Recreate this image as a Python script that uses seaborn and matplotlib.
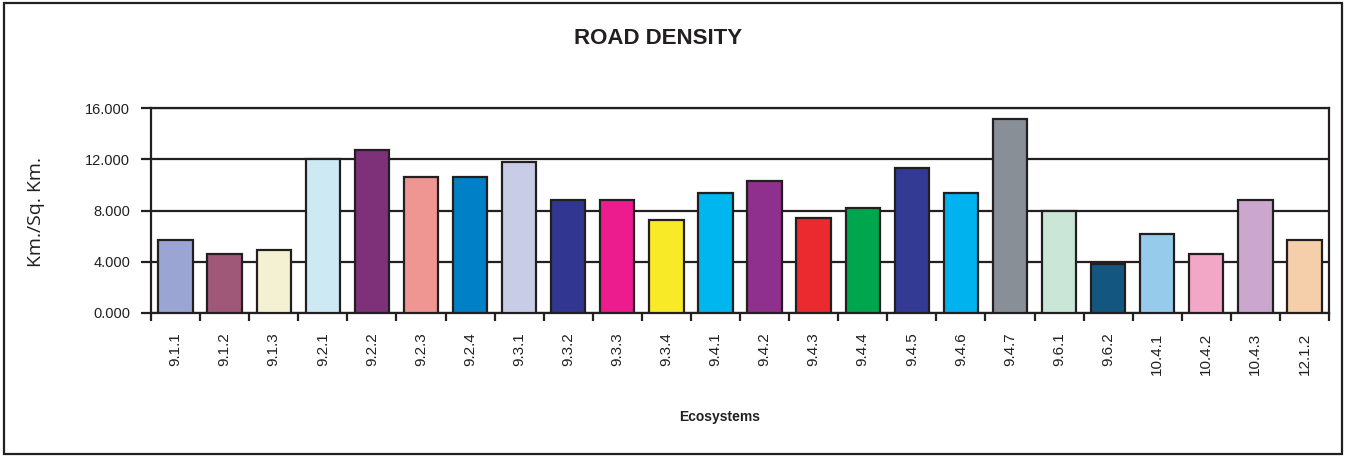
import matplotlib
matplotlib.use("Agg")
import matplotlib.pyplot as plt
import matplotlib.patches as mpatches
from matplotlib.ticker import FixedLocator, FuncFormatter
import seaborn as sns
import pandas as pd
import numpy as np

ecosystems = ["9.1.1", "9.1.2", "9.1.3", "9.2.1", "9.2.2", "9.2.3", "9.2.4", "9.3.1",
              "9.3.2", "9.3.3", "9.3.4", "9.4.1", "9.4.2", "9.4.3", "9.4.4", "9.4.5",
              "9.4.6", "9.4.7", "9.6.1", "9.6.2", "10.4.1", "10.4.2", "10.4.3", "12.1.2"]
density = [5.72, 4.60, 4.92, 12.04, 12.75, 10.64, 10.64, 11.78,
           8.85, 8.85, 7.28, 9.37, 10.28, 7.44, 8.22, 11.34,
           9.37, 15.14, 7.96, 3.82, 6.17, 4.60, 8.85, 5.72]
bar_colors = ["#9BA5D3", "#A05878", "#F3F1D2", "#CCE9F4", "#7E3079", "#F09692",
              "#0080C6", "#C8CCE7", "#313691", "#EC1B8E", "#F9EA28", "#00B6EE",
              "#8F2F8E", "#EA2A2E", "#00A64E", "#333A94", "#00B3EE", "#888F96",
              "#CAE6D6", "#135680", "#96CBEC", "#F1A7C5", "#CBA6CE", "#F5CFA9"]
y_ticks = [0, 4, 8, 12, 16]

ink = "#231F20"
sns.set_theme(style="white")
plt.rcParams["font.family"] = ["Liberation Sans", "DejaVu Sans"]

df = pd.DataFrame({"eco": ecosystems, "val": density})

fig = plt.figure(figsize=(13.45, 4.57), dpi=100)
ax = fig.add_axes([151 / 1345, 1 - 313 / 457, (1329 - 151) / 1345, (313 - 108) / 457])

sns.barplot(data=df, x="eco", y="val", hue="eco", palette=bar_colors,
            legend=False, width=0.7, edgecolor=ink, linewidth=1.6,
            saturation=1, ax=ax, zorder=3)

ax.set_ylim(0, 16)
ax.set_xlim(-0.5, len(ecosystems) - 0.5)
ax.yaxis.set_major_locator(FixedLocator(y_ticks))
ax.yaxis.set_major_formatter(FuncFormatter(lambda v, p: f"{v:.3f}"))
ax.grid(axis="y", color=ink, linewidth=1.6, zorder=1)
ax.grid(axis="x", visible=False)
ax.set_axisbelow(True)

for s in ax.spines.values():
    s.set_visible(True)
    s.set_color(ink)
    s.set_linewidth(1.6)

# category labels sit on major ticks, tick marks sit on category boundaries
ax.tick_params(axis="x", which="major", length=0, pad=14, labelsize=11,
               labelcolor=ink, rotation=90)
ax.set_xticks(np.arange(-0.5, len(ecosystems)), minor=True)
ax.tick_params(axis="x", which="minor", length=6, width=1.6, color=ink, bottom=True)
ax.tick_params(axis="y", which="major", length=7, width=1.6, color=ink,
               left=True, labelsize=10.5, labelcolor=ink, pad=8)
for lbl in ax.get_xticklabels():
    lbl.set_verticalalignment("top")

ax.set_xlabel("")
ax.set_ylabel("")

fig.text(658 / 1345, 1 - 39 / 457, "ROAD DENSITY", ha="center", va="center",
         fontsize=16, fontweight="bold", color=ink)
fig.text(720 / 1345, 1 - 417 / 457, "Ecosystems", ha="center", va="center",
         fontsize=10, fontweight="bold", color=ink)
fig.text(36 / 1345, 1 - 212 / 457, "Km./Sq. Km.", ha="center", va="center",
         rotation=90, fontsize=14, color=ink, family=["Open Sans", "DejaVu Sans"])

fig.patches.append(mpatches.Rectangle((4 / 1345, 3 / 457), 1338 / 1345, 451 / 457,
                                      transform=fig.transFigure, fill=False,
                                      edgecolor=ink, linewidth=1.6))

fig.savefig("out.png", dpi=100, facecolor="white")
